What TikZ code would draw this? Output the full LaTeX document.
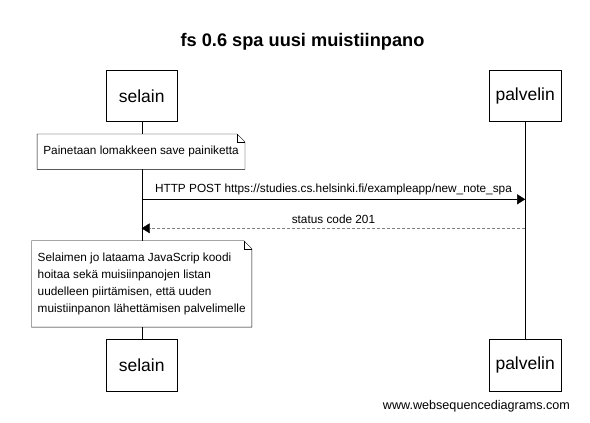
\documentclass[tikz,border=0pt]{standalone}
\usepackage{fontspec}
\setmainfont{Liberation Sans}
\usetikzlibrary{positioning}
\usetikzlibrary{arrows.meta}

\tikzset{
  actor/.style={draw, fill=white, minimum width=71.5pt, minimum height=51.7pt, inner sep=0pt, font=\fontsize{17.5}{20}\selectfont},
  notebox/.style={fill=white, inner xsep=6pt, inner ysep=0pt, font=\fontsize{11.8}{16.7}\selectfont},
  lifeline/.style={thin, black},
  msg/.style={thin, -{Triangle[length=8pt,width=10pt]}},
  reply/.style={thin, dash pattern=on 3pt off 2pt, draw=gray, -{Triangle[length=8pt,width=10pt,fill=black,color=black]}}
}

\begin{document}
\begin{tikzpicture}[x=1pt, y=-1pt]

% Set the size of the figure
\useasboundingbox (0,0) rectangle (590,423);

% Title
\node[font=\bfseries\fontsize{18.2}{20}\selectfont] (title) at (302.5,41.7) {fs 0.6 spa uusi muistiinpano};

% Participants
\node[actor] (selainTop) at (141.7,95.8) {selain};
\node[actor] (palvelinTop) at (525.2,95.8) {palvelin};
\node[actor] (selainBot) at (141.7,365.2) {selain};
\node[actor] (palvelinBot) at (525.2,365.2) {palvelin};

% Lifelines
\draw[lifeline] (selainTop.south) -- (selainBot.north);
\draw[lifeline] (palvelinTop.south) -- (palvelinBot.north);

% Notes
\node[notebox, minimum width=203pt, minimum height=35pt] (noteSave) at (141.1,151.7) {Painetaan lomakkeen save painiketta};
\node[notebox, align=left, minimum width=217pt, minimum height=86pt] (noteJs) at (141.7,283.9) {Selaimen jo lataama JavaScrip koodi\\hoitaa sekä muisiinpanojen listan\\uudelleen piirtämisen, että uuden\\muistiinpanon lähettämisen palvelimelle};
\foreach \n in {noteSave, noteJs} {
  \draw (\n.north west) -- ([xshift=-8pt]\n.north east) -- ([yshift=-8pt]\n.north east)
    -- (\n.south east) -- (\n.south west) -- cycle;
  \draw ([xshift=-8pt]\n.north east) -- ([xshift=-8pt,yshift=-8pt]\n.north east) -- ([yshift=-8pt]\n.north east);
}

% Messages
\coordinate (postFrom) at (selainTop.south |- 0,199.3);
\coordinate (postTo) at (palvelinTop.south |- 0,199.3);
\draw[msg] (postFrom) -- node[above=1pt, font=\fontsize{11.8}{14}\selectfont] (postLabel) {HTTP POST https://studies.cs.helsinki.fi/exampleapp/new\_note\_spa} (postTo);

\coordinate (replyFrom) at (palvelinTop.south |- 0,228.3);
\coordinate (replyTo) at (selainTop.south |- 0,228.3);
\draw[reply] (replyFrom) -- node[above=1pt, font=\fontsize{11.8}{14}\selectfont] (replyLabel) {status code 201} (replyTo);

% Footer
\node[anchor=east, font=\fontsize{12.6}{14}\selectfont] (footer) at (573.5,406.7) {www.websequencediagrams.com};

\end{tikzpicture}
\end{document}
